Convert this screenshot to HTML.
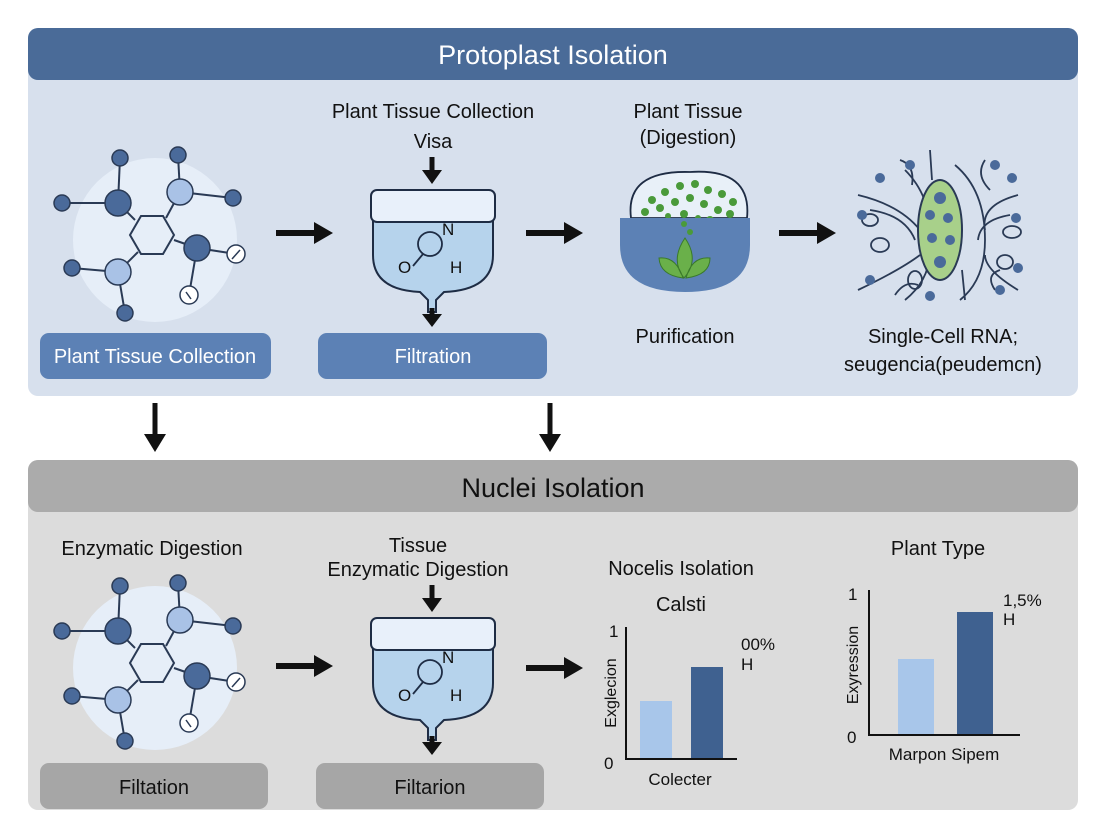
<!DOCTYPE html>
<html><head><meta charset="utf-8"><style>
html,body{margin:0;padding:0;background:#fff;}
svg{display:block;font-family:"Liberation Sans","DejaVu Sans",sans-serif;}
</style></head><body>
<svg width="1104" height="832" viewBox="0 0 1104 832" xmlns="http://www.w3.org/2000/svg">
<defs>
<marker id="ah" markerWidth="4" markerHeight="4" refX="2" refY="2" orient="auto" markerUnits="strokeWidth"><path d="M0,0 L4,2 L0,4z" fill="#111"/></marker>
<g id="mol">
 <circle cx="155" cy="240" r="82" fill="#e6eef8"/>
 <g stroke="#2a3a55" stroke-width="2" fill="none">
  <polygon points="141,216 163,216 174,235 163,254 141,254 130,235"/>
  <line x1="120" y1="158" x2="118" y2="203"/><line x1="118" y1="203" x2="62" y2="203"/><line x1="118" y1="203" x2="135" y2="220"/>
  <line x1="180" y1="192" x2="233" y2="198"/><line x1="180" y1="192" x2="166" y2="218"/><line x1="180" y1="192" x2="178" y2="155"/>
  <line x1="197" y1="248" x2="236" y2="254"/><line x1="197" y1="248" x2="174" y2="240"/><line x1="197" y1="248" x2="189" y2="295"/>
  <line x1="118" y1="272" x2="72" y2="268"/><line x1="118" y1="272" x2="125" y2="313"/><line x1="118" y1="272" x2="138" y2="252"/>
 </g>
 <g stroke="#2a3a55" stroke-width="1.5">
  <circle cx="120" cy="158" r="8" fill="#4a6a9a"/>
  <circle cx="178" cy="155" r="8" fill="#4a6a9a"/>
  <circle cx="118" cy="203" r="13" fill="#4a6a9a"/>
  <circle cx="62" cy="203" r="8" fill="#4a6a9a"/>
  <circle cx="180" cy="192" r="13" fill="#a9c2e6"/>
  <circle cx="233" cy="198" r="8" fill="#4a6a9a"/>
  <circle cx="197" cy="248" r="13" fill="#4a6a9a"/>
  <circle cx="236" cy="254" r="9" fill="#fff"/>
  <circle cx="118" cy="272" r="13" fill="#a9c2e6"/>
  <circle cx="72" cy="268" r="8" fill="#4a6a9a"/>
  <circle cx="125" cy="313" r="8" fill="#4a6a9a"/>
  <circle cx="189" cy="295" r="9" fill="#fff"/>
  <line x1="232" y1="259" x2="240" y2="250"/><line x1="186" y1="292" x2="191" y2="299"/>
 </g>
</g>
<g id="beaker">
 <path d="M373,205 L373,255 Q373,290 420,292 L428,300 L428,312 L436,312 L436,300 L444,292 Q493,290 493,255 L493,205 Z" fill="#b6d3ec" stroke="#1e2c44" stroke-width="2"/>
 <path d="M374,207 L492,207 L492,222 L374,222 Z" fill="#dce9f6"/>
 <rect x="371" y="190" width="124" height="32" rx="6" fill="#e8f0fa" stroke="#1e2c44" stroke-width="2"/>
 <circle cx="430" cy="244" r="12" fill="none" stroke="#1e2c44" stroke-width="1.8"/>
 <line x1="423" y1="254" x2="413" y2="266" stroke="#1e2c44" stroke-width="1.8"/>
 <text x="442" y="235" font-size="17" fill="#111">N</text>
 <text x="398" y="273" font-size="17" fill="#111">O</text>
 <text x="450" y="273" font-size="17" fill="#111">H</text>
 <line x1="432" y1="308" x2="432" y2="316" stroke="#111" stroke-width="5"/>
 <path d="M422,314 L442,314 L432,327 Z" fill="#111"/>
 <line x1="432" y1="157" x2="432" y2="172" stroke="#111" stroke-width="5"/>
 <path d="M422,170 L442,170 L432,184 Z" fill="#111"/>
</g>
<g id="harr"><line x1="0" y1="0" x2="40" y2="0" stroke="#111" stroke-width="6"/><path d="M38,-11 L57,0 L38,11 Z" fill="#111"/></g>
</defs>

<!-- TOP PANEL -->
<rect x="28" y="28" width="1050" height="368" rx="10" fill="#d7e0ed"/>
<rect x="28" y="28" width="1050" height="52" rx="10" fill="#4a6b98"/>
<text x="553" y="64" font-size="27" fill="#fff" text-anchor="middle">Protoplast Isolation</text>

<use href="#mol"/>
<rect x="40" y="333" width="231" height="46" rx="9" fill="#5c81b5"/>
<text x="155" y="363" font-size="20" fill="#fff" text-anchor="middle">Plant Tissue Collection</text>

<use href="#harr" transform="translate(276,233)"/>
<text x="433" y="118" font-size="20" fill="#111" text-anchor="middle">Plant Tissue Collection</text>
<text x="433" y="148" font-size="20" fill="#111" text-anchor="middle">Visa</text>
<use href="#beaker"/>
<rect x="318" y="333" width="229" height="46" rx="9" fill="#5c81b5"/>
<text x="433" y="363" font-size="20" fill="#fff" text-anchor="middle">Filtration</text>

<use href="#harr" transform="translate(526,233)"/>
<text x="688" y="118" font-size="20" fill="#111" text-anchor="middle">Plant Tissue</text>
<text x="688" y="144" font-size="20" fill="#111" text-anchor="middle">(Digestion)</text>
<!-- bowl -->
<path d="M631,218 Q625,170 690,172 Q752,168 747,218 Z" fill="#e8f0f8" stroke="#1e2c44" stroke-width="1.8"/>
<g fill="#4a9a3a">
 <circle cx="652" cy="200" r="4"/><circle cx="665" cy="192" r="4"/><circle cx="680" cy="186" r="4"/><circle cx="695" cy="184" r="4"/><circle cx="708" cy="190" r="4"/><circle cx="722" cy="194" r="4"/><circle cx="733" cy="202" r="4"/>
 <circle cx="645" cy="212" r="4"/><circle cx="660" cy="208" r="4"/><circle cx="675" cy="202" r="4"/><circle cx="690" cy="198" r="4"/><circle cx="704" cy="204" r="4"/><circle cx="718" cy="210" r="4"/><circle cx="730" cy="214" r="4"/>
 <circle cx="668" cy="216" r="3"/><circle cx="684" cy="214" r="4"/><circle cx="698" cy="218" r="3"/><circle cx="710" cy="220" r="4"/>
</g>
<path d="M620,218 L750,218 L750,245 Q750,292 685,292 Q620,292 620,245 Z" fill="#5c81b5"/>
<path d="M683,278 Q660,275 659,258 Q676,256 683,278 Z M686,278 Q710,275 710,258 Q692,256 686,278 Z M684,278 Q670,260 685,238 Q700,260 684,278 Z" fill="#6ab04a" stroke="#3a7a2a" stroke-width="1"/>
<circle cx="690" cy="232" r="3" fill="#4a9a3a"/><circle cx="684" cy="224" r="3" fill="#4a9a3a"/>
<text x="685" y="343" font-size="20" fill="#111" text-anchor="middle">Purification</text>

<use href="#harr" transform="translate(779,233)"/>
<!-- cell -->
<g stroke="#2a3a55" stroke-width="1.8" fill="none">
 <path d="M905,170 Q935,200 930,250 Q930,280 905,300 M955,165 Q985,190 985,240 Q985,280 960,300"/>
 <path d="M858,195 Q900,205 920,230 M858,290 Q900,270 920,255 M1018,195 Q980,205 985,230 M1018,290 Q985,270 985,255"/>
 <path d="M870,210 Q905,215 915,240 M1010,215 Q980,220 978,240"/>
 <path d="M930,150 L932,180 M965,300 L962,270 M900,160 Q915,165 912,185 M985,160 Q975,175 990,190 M895,295 Q905,280 918,285 M995,290 Q985,275 1000,270"/>
 <ellipse cx="870" cy="220" rx="8" ry="6"/><ellipse cx="1012" cy="232" rx="9" ry="6"/><ellipse cx="880" cy="245" rx="9" ry="7"/><ellipse cx="1005" cy="262" rx="8" ry="7"/><ellipse cx="915" cy="280" rx="7" ry="9"/>
</g>
<ellipse cx="940" cy="230" rx="22" ry="50" fill="#a8d08a" stroke="#2a3a55" stroke-width="2"/>
<g fill="#4a6a9a">
 <circle cx="940" cy="198" r="6"/><circle cx="930" cy="215" r="5"/><circle cx="948" cy="218" r="5"/><circle cx="932" cy="238" r="5"/><circle cx="950" cy="240" r="5"/><circle cx="940" cy="262" r="6"/>
 <circle cx="880" cy="178" r="5"/><circle cx="862" cy="215" r="5"/><circle cx="1012" cy="178" r="5"/><circle cx="1016" cy="218" r="5"/><circle cx="1018" cy="268" r="5"/><circle cx="870" cy="280" r="5"/><circle cx="930" cy="296" r="5"/><circle cx="1000" cy="290" r="5"/><circle cx="910" cy="165" r="5"/><circle cx="995" cy="165" r="5"/>
</g>
<text x="943" y="343" font-size="20" fill="#111" text-anchor="middle">Single-Cell RNA;</text>
<text x="943" y="371" font-size="20" fill="#111" text-anchor="middle">seugencia(peudemcn)</text>

<!-- down arrows -->
<line x1="155" y1="403" x2="155" y2="437" stroke="#111" stroke-width="5"/><path d="M144,434 L166,434 L155,452 Z" fill="#111"/>
<line x1="550" y1="403" x2="550" y2="437" stroke="#111" stroke-width="5"/><path d="M539,434 L561,434 L550,452 Z" fill="#111"/>

<!-- BOTTOM PANEL -->
<rect x="28" y="460" width="1050" height="350" rx="10" fill="#dcdcdc"/>
<rect x="28" y="460" width="1050" height="52" rx="10" fill="#ababab"/>
<text x="553" y="497" font-size="27" fill="#111" text-anchor="middle">Nuclei Isolation</text>

<text x="152" y="555" font-size="20" fill="#111" text-anchor="middle">Enzymatic Digestion</text>
<use href="#mol" transform="translate(0,428)"/>
<rect x="40" y="763" width="228" height="46" rx="9" fill="#a6a6a6"/>
<text x="154" y="794" font-size="20" fill="#111" text-anchor="middle">Filtation</text>

<use href="#harr" transform="translate(276,666)"/>
<text x="418" y="552" font-size="20" fill="#111" text-anchor="middle">Tissue</text>
<text x="418" y="576" font-size="20" fill="#111" text-anchor="middle">Enzymatic Digestion</text>
<use href="#beaker" transform="translate(0,428)"/>
<rect x="316" y="763" width="228" height="46" rx="9" fill="#a6a6a6"/>
<text x="430" y="794" font-size="20" fill="#111" text-anchor="middle">Filtarion</text>

<use href="#harr" transform="translate(526,668)"/>
<text x="681" y="575" font-size="20" fill="#111" text-anchor="middle">Nocelis Isolation</text>
<text x="681" y="611" font-size="20" fill="#111" text-anchor="middle">Calsti</text>
<!-- chart 1 -->
<rect x="640" y="701" width="32" height="58" fill="#a8c6ea"/>
<rect x="691" y="667" width="32" height="92" fill="#3f6190"/>
<path d="M626,627 L626,759 L737,759" stroke="#111" stroke-width="2" fill="none"/>
<text x="609" y="637" font-size="17" fill="#111">1</text>
<text x="604" y="769" font-size="17" fill="#111">0</text>
<text x="616" y="693" font-size="16" fill="#111" text-anchor="middle" transform="rotate(-90 616 693)">Exglecion</text>
<text x="680" y="785" font-size="17" fill="#111" text-anchor="middle">Colecter</text>
<text x="741" y="650" font-size="17" fill="#111">00%</text>
<text x="741" y="670" font-size="17" fill="#111">H</text>
<!-- chart 2 -->
<text x="938" y="555" font-size="20" fill="#111" text-anchor="middle">Plant Type</text>
<rect x="898" y="659" width="36" height="76" fill="#a8c6ea"/>
<rect x="957" y="612" width="36" height="123" fill="#3f6190"/>
<path d="M869,590 L869,735 L1020,735" stroke="#111" stroke-width="2" fill="none"/>
<text x="848" y="600" font-size="17" fill="#111">1</text>
<text x="847" y="743" font-size="17" fill="#111">0</text>
<text x="858" y="665" font-size="16" fill="#111" text-anchor="middle" transform="rotate(-90 858 665)">Exyression</text>
<text x="944" y="760" font-size="17" fill="#111" text-anchor="middle">Marpon Sipem</text>
<text x="1003" y="606" font-size="17" fill="#111">1,5%</text>
<text x="1003" y="625" font-size="17" fill="#111">H</text>
</svg>
</body></html>
